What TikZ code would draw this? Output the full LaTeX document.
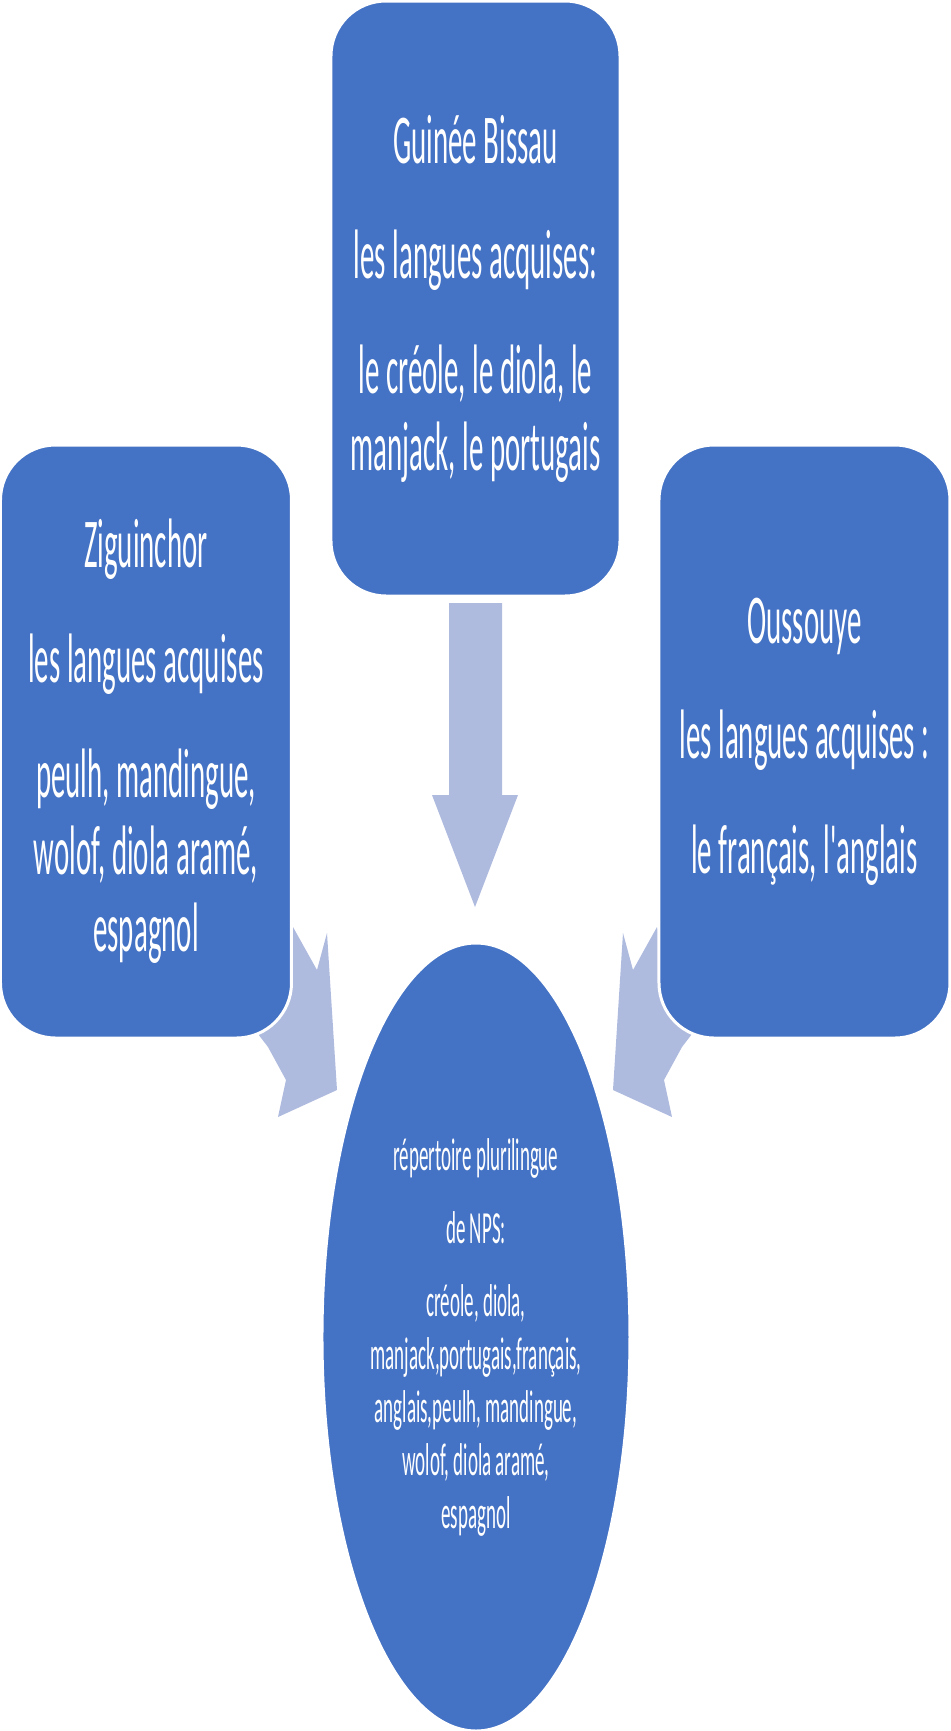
\documentclass[tikz,border=0pt]{standalone}
\usepackage{fontspec}
\newfontfamily\calib{Carlito}
\usetikzlibrary{shapes.geometric}
\definecolor{boxblue}{RGB}{68,114,196}
\definecolor{arrowblue}{RGB}{175,187,222}
\begin{document}
\begin{tikzpicture}[x=0.5pt,y=-0.5pt,
  blockarrow/.style={fill=arrowblue, draw=none},
  place/.style={rectangle, rounded corners=27.5pt, fill=boxblue, draw=white, line width=1.5pt,
    text=white, align=center, inner sep=0pt, font=\calib\fontsize{35pt}{38.5pt}\selectfont},
  hub/.style={ellipse, fill=boxblue, draw=white, line width=1.5pt, text=white, align=center,
    inner sep=0pt, font=\calib\fontsize{23pt}{26.5pt}\selectfont}]
\useasboundingbox (0,0) rectangle (950,1731);
% block arrows (drawn below the shapes)
\coordinate (tipdown) at (475,907);
\fill[blockarrow] (449,603) -- (502,603) -- (502,795) -- (518,795) -- (tipdown) -- (432,795) -- (449,795) -- cycle;
\fill[blockarrow] (293,927) -- (317,970) -- (327,933) -- (337,1090) -- (278,1117) -- (286,1080) -- (268,1047) -- (255,1030) -- cycle;
\fill[blockarrow] (657,927) -- (633,970) -- (623,933) -- (613,1090) -- (672,1117) -- (664,1080) -- (682,1047) -- (695,1030) -- cycle;
\begin{scope}[x=1.21065pt, xscale=0.413, transform shape]
\node[place, minimum width=349.9pt, minimum height=297.5pt] (gb) at (475.5,298.5)
  {Guinée Bissau\\[19pt]les langues acquises:\\[19pt]le créole, le diola, le\\manjack, le portugais};
\node[place, minimum width=352.3pt, minimum height=296.5pt] (zig) at (146,741.5)
  {Ziguinchor\\[19pt]les langues acquises\\[19pt]peulh, mandingue,\\wolof, diola aramé,\\espagnol};
\node[place, minimum width=352.3pt, minimum height=296.5pt] (ous) at (804.5,741.5)
  {Oussouye\\[19pt]les langues acquises :\\[19pt]le français, l'anglais};
\node[hub, minimum width=372.9pt, minimum height=394pt] (nps) at (476,1337)
  {répertoire plurilingue\\[10pt]de NPS:\\[10pt]créole, diola,\\manjack,portugais,français,\\anglais,peulh, mandingue,\\wolof, diola aramé,\\espagnol};
\end{scope}
\end{tikzpicture}
\end{document}
